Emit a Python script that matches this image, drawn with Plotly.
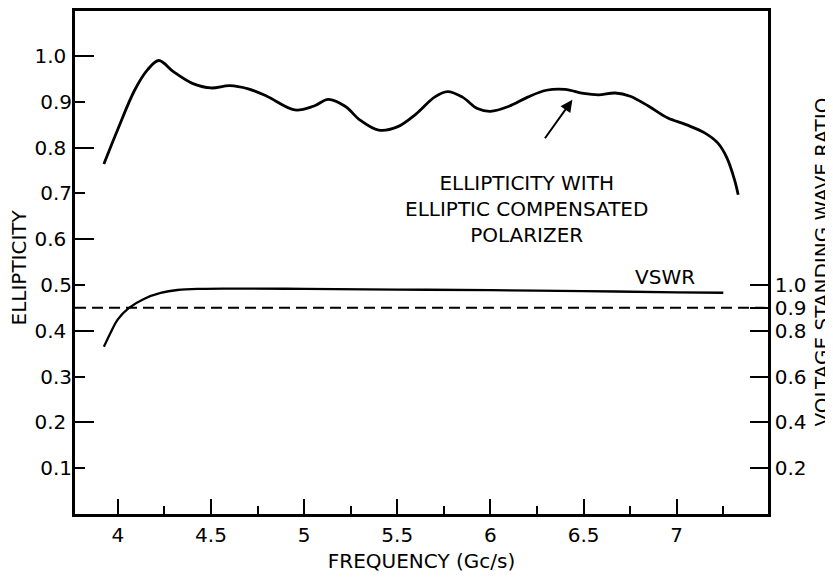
import plotly.graph_objects as go

# ---- data ----
freq_ell = [3.925, 4.00, 4.09, 4.16, 4.22, 4.30, 4.40, 4.50, 4.60, 4.70, 4.80, 4.95,
            5.05, 5.13, 5.22, 5.30, 5.40, 5.50, 5.60, 5.70, 5.77, 5.85, 5.93, 6.00,
            6.10, 6.20, 6.30, 6.40, 6.50, 6.58, 6.67, 6.75, 6.85, 6.95, 7.05, 7.15,
            7.22, 7.27, 7.31, 7.33]
ellipticity = [0.764, 0.84, 0.925, 0.97, 0.99, 0.965, 0.94, 0.930, 0.935, 0.928, 0.912, 0.882,
               0.89, 0.905, 0.89, 0.86, 0.838, 0.845, 0.873, 0.91, 0.922, 0.91, 0.885, 0.879,
               0.89, 0.91, 0.925, 0.927, 0.918, 0.915, 0.919, 0.912, 0.89, 0.865, 0.85, 0.832,
               0.81, 0.777, 0.73, 0.697]

freq_vswr = [3.925, 3.963, 4.00, 4.06, 4.14, 4.23, 4.32, 4.45, 4.60, 5.00, 5.50, 6.00,
             6.50, 7.00, 7.25]
vswr = [0.73, 0.795, 0.85, 0.90, 0.939, 0.965, 0.978, 0.983, 0.984, 0.983, 0.980, 0.977,
        0.973, 0.968, 0.966]

vswr_ref = 0.9

x_ticks = [4, 4.5, 5, 5.5, 6, 6.5, 7]
x_labels = ["4", "4.5", "5", "5.5", "6", "6.5", "7"]
ell_even_ticks = [0.2, 0.4, 0.6, 0.8, 1.0]
ell_even_labels = ["0.2", "0.4", "0.6", "0.8", "1.0"]
ell_odd_ticks = [0.1, 0.3, 0.5, 0.7, 0.9]
ell_odd_labels = ["0.1", "0.3", "0.5", "0.7", "0.9"]
vswr_label_vals = [0.2, 0.4, 0.6, 0.8, 0.9, 1.0]
vswr_labels = ["0.2", "0.4", "0.6", "0.8", "0.9", "1.0"]

FONT = "DejaVu Sans"
BLACK = "black"
FS = 20

fig = go.Figure()
fig.add_trace(go.Scatter(x=freq_ell, y=ellipticity, mode="lines",
                         line=dict(color=BLACK, width=2.8, shape="spline"),
                         yaxis="y3", showlegend=False, hoverinfo="skip"))
fig.add_trace(go.Scatter(x=freq_vswr, y=vswr, mode="lines",
                         line=dict(color=BLACK, width=2.3, shape="spline"),
                         yaxis="y2", showlegend=False, hoverinfo="skip"))

fig.add_shape(type="line", xref="x domain", x0=0, x1=1, yref="y2", y0=vswr_ref, y1=vswr_ref,
              line=dict(color=BLACK, width=2, dash="11px,6px"))

xr = [3.77, 7.49]
yr = [0, 1.098]
y2r = [0, 2.196]

fig.update_layout(
    width=833, height=579,
    margin=dict(l=67, r=73, t=3, b=73),
    paper_bgcolor="white", plot_bgcolor="white",
    font=dict(family=FONT, size=FS, color=BLACK),
    xaxis=dict(range=xr, showgrid=False, zeroline=False, showline=True, linecolor=BLACK,
               linewidth=2.5, mirror=True, ticks="inside", ticklen=15, tickwidth=2,
               tickcolor=BLACK, tickvals=x_ticks, ticktext=x_labels, automargin=False,
               ticklabelstandoff=1,
               minor=dict(dtick=0.25, tick0=4, ticks="inside", ticklen=8, tickwidth=2,
                          tickcolor=BLACK, showgrid=False),
               title=dict(text="FREQUENCY (Gc/s)", standoff=9, font=dict(size=FS))),
    # left axis: long ticks + labels at even tenths, short minor ticks at odd tenths
    yaxis=dict(range=yr, showgrid=False, zeroline=False, showline=True, linecolor=BLACK,
               linewidth=2.5, mirror=True, ticks="inside", ticklen=19, tickwidth=2,
               tickcolor=BLACK, tickvals=ell_even_ticks, ticktext=ell_even_labels,
               automargin=False, ticklabelstandoff=2,
               minor=dict(tickmode="array", tickvals=ell_odd_ticks, ticks="inside",
                          ticklen=10, tickwidth=2, tickcolor=BLACK, showgrid=False)),
    # overlay carrying the ellipticity curve and the labels of the odd tenths
    yaxis3=dict(range=yr, overlaying="y", side="left", showgrid=False, zeroline=False,
                showline=False, ticks="", tickvals=ell_odd_ticks, ticktext=ell_odd_labels,
                automargin=False, ticklabelstandoff=2),
    yaxis2=dict(range=y2r, overlaying="y", side="right", showgrid=False, zeroline=False,
                showline=True, linecolor=BLACK, linewidth=2.5, ticks="inside", ticklen=18,
                tickwidth=2, tickcolor=BLACK,
                tickvals=vswr_label_vals, ticktext=vswr_labels, automargin=False),
)

ann_font = dict(family=FONT, size=FS, color=BLACK)
fig.add_annotation(x=0, y=0.5, xref="paper", yref="paper", xshift=-57, yshift=-5,
                   text="ELLIPTICITY", textangle=-90, showarrow=False, font=ann_font,
                   xanchor="center", yanchor="middle")
fig.add_annotation(x=1, y=0.5, xref="paper", yref="paper", xshift=53, yshift=0,
                   text="VOLTAGE STANDING WAVE RATIO", textangle=-90, showarrow=False,
                   font=ann_font, xanchor="center", yanchor="middle")

fig.add_annotation(x=6.195, y=0.666, xref="x", yref="y",
                   text="ELLIPTICITY WITH<br>ELLIPTIC COMPENSATED<br>POLARIZER",
                   showarrow=False, font=ann_font, xanchor="center", yanchor="middle")
fig.add_annotation(x=6.44, y=0.904, ax=6.287, ay=0.817, xref="x", yref="y", axref="x", ayref="y",
                   text="", showarrow=True, arrowhead=2, arrowsize=1.2, arrowwidth=2,
                   arrowcolor=BLACK)
fig.add_annotation(x=6.936, y=1.035, xref="x", yref="y2", text="VSWR", showarrow=False,
                   font=ann_font, xanchor="center", yanchor="middle")

fig.write_html("out.html")
